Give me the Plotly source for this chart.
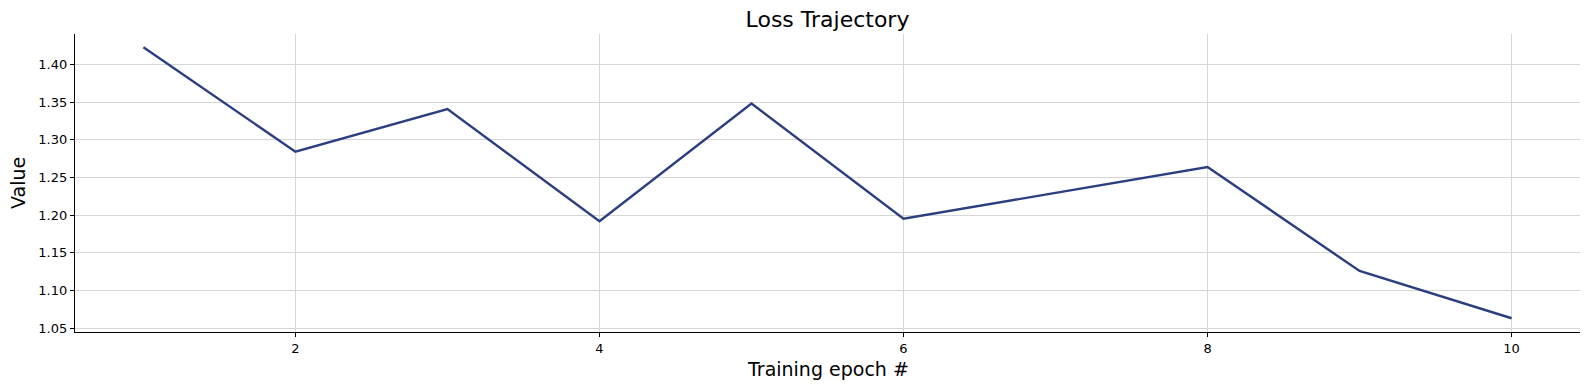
import plotly.graph_objects as go

epochs = [1, 2, 3, 4, 5, 6, 7, 8, 9, 10]
loss = [1.4225, 1.2842, 1.3408, 1.1919, 1.3479, 1.1954, 1.2295, 1.2639, 1.1260, 1.0633]
x_ticks = [2, 4, 6, 8, 10]
y_ticks = [1.05, 1.10, 1.15, 1.20, 1.25, 1.30, 1.35, 1.40]

FONT = "DejaVu Sans"

fig = go.Figure()
fig.add_trace(go.Scatter(x=epochs, y=loss, mode="lines",
                         line=dict(color="#2b3e80", width=2.4), showlegend=False))

fig.update_layout(
    width=1589, height=390,
    margin=dict(l=75, r=9, t=34, b=58),
    paper_bgcolor="white", plot_bgcolor="white",
    font=dict(family=FONT, color="black"),
    title=dict(text="Loss Trajectory", x=0.5, xref="paper", y=(390 - 19) / 390,
               yref="container", yanchor="middle", xanchor="center",
               font=dict(size=22, family=FONT, color="black")),
)

fig.update_xaxes(
    range=[0.55, 10.45], tickvals=x_ticks, ticktext=[str(v) for v in x_ticks],
    showgrid=True, gridcolor="#d6d6d6", gridwidth=1,
    showline=True, linecolor="black", linewidth=1.2,
    ticks="outside", ticklen=4, tickcolor="black", tickwidth=1,
    tickfont=dict(size=13, family=FONT, color="black"),
    zeroline=False, mirror=False,
)
fig.update_yaxes(
    range=[1.0451, 1.4402], tickvals=y_ticks, ticktext=[f"{v:.2f}" for v in y_ticks],
    showgrid=True, gridcolor="#d6d6d6", gridwidth=1,
    showline=True, linecolor="black", linewidth=1.2,
    ticks="outside", ticklen=4, tickcolor="black", tickwidth=1,
    tickfont=dict(size=13, family=FONT, color="black"),
    zeroline=False, mirror=False,
)

fig.add_annotation(text="Training epoch #", xref="paper", yref="paper", x=0.5, y=0,
                   yshift=-37, yanchor="middle", xanchor="center", showarrow=False,
                   font=dict(size=19, family=FONT, color="black"))
fig.add_annotation(text="Value", xref="paper", yref="paper", x=0, y=0.5,
                   xshift=-57, xanchor="center", yanchor="middle", textangle=-90,
                   showarrow=False, font=dict(size=19, family=FONT, color="black"))

fig.write_html("out.html", config={"displayModeBar": False},
               post_script="document.body.style.margin='0';document.body.style.overflow='hidden';")
